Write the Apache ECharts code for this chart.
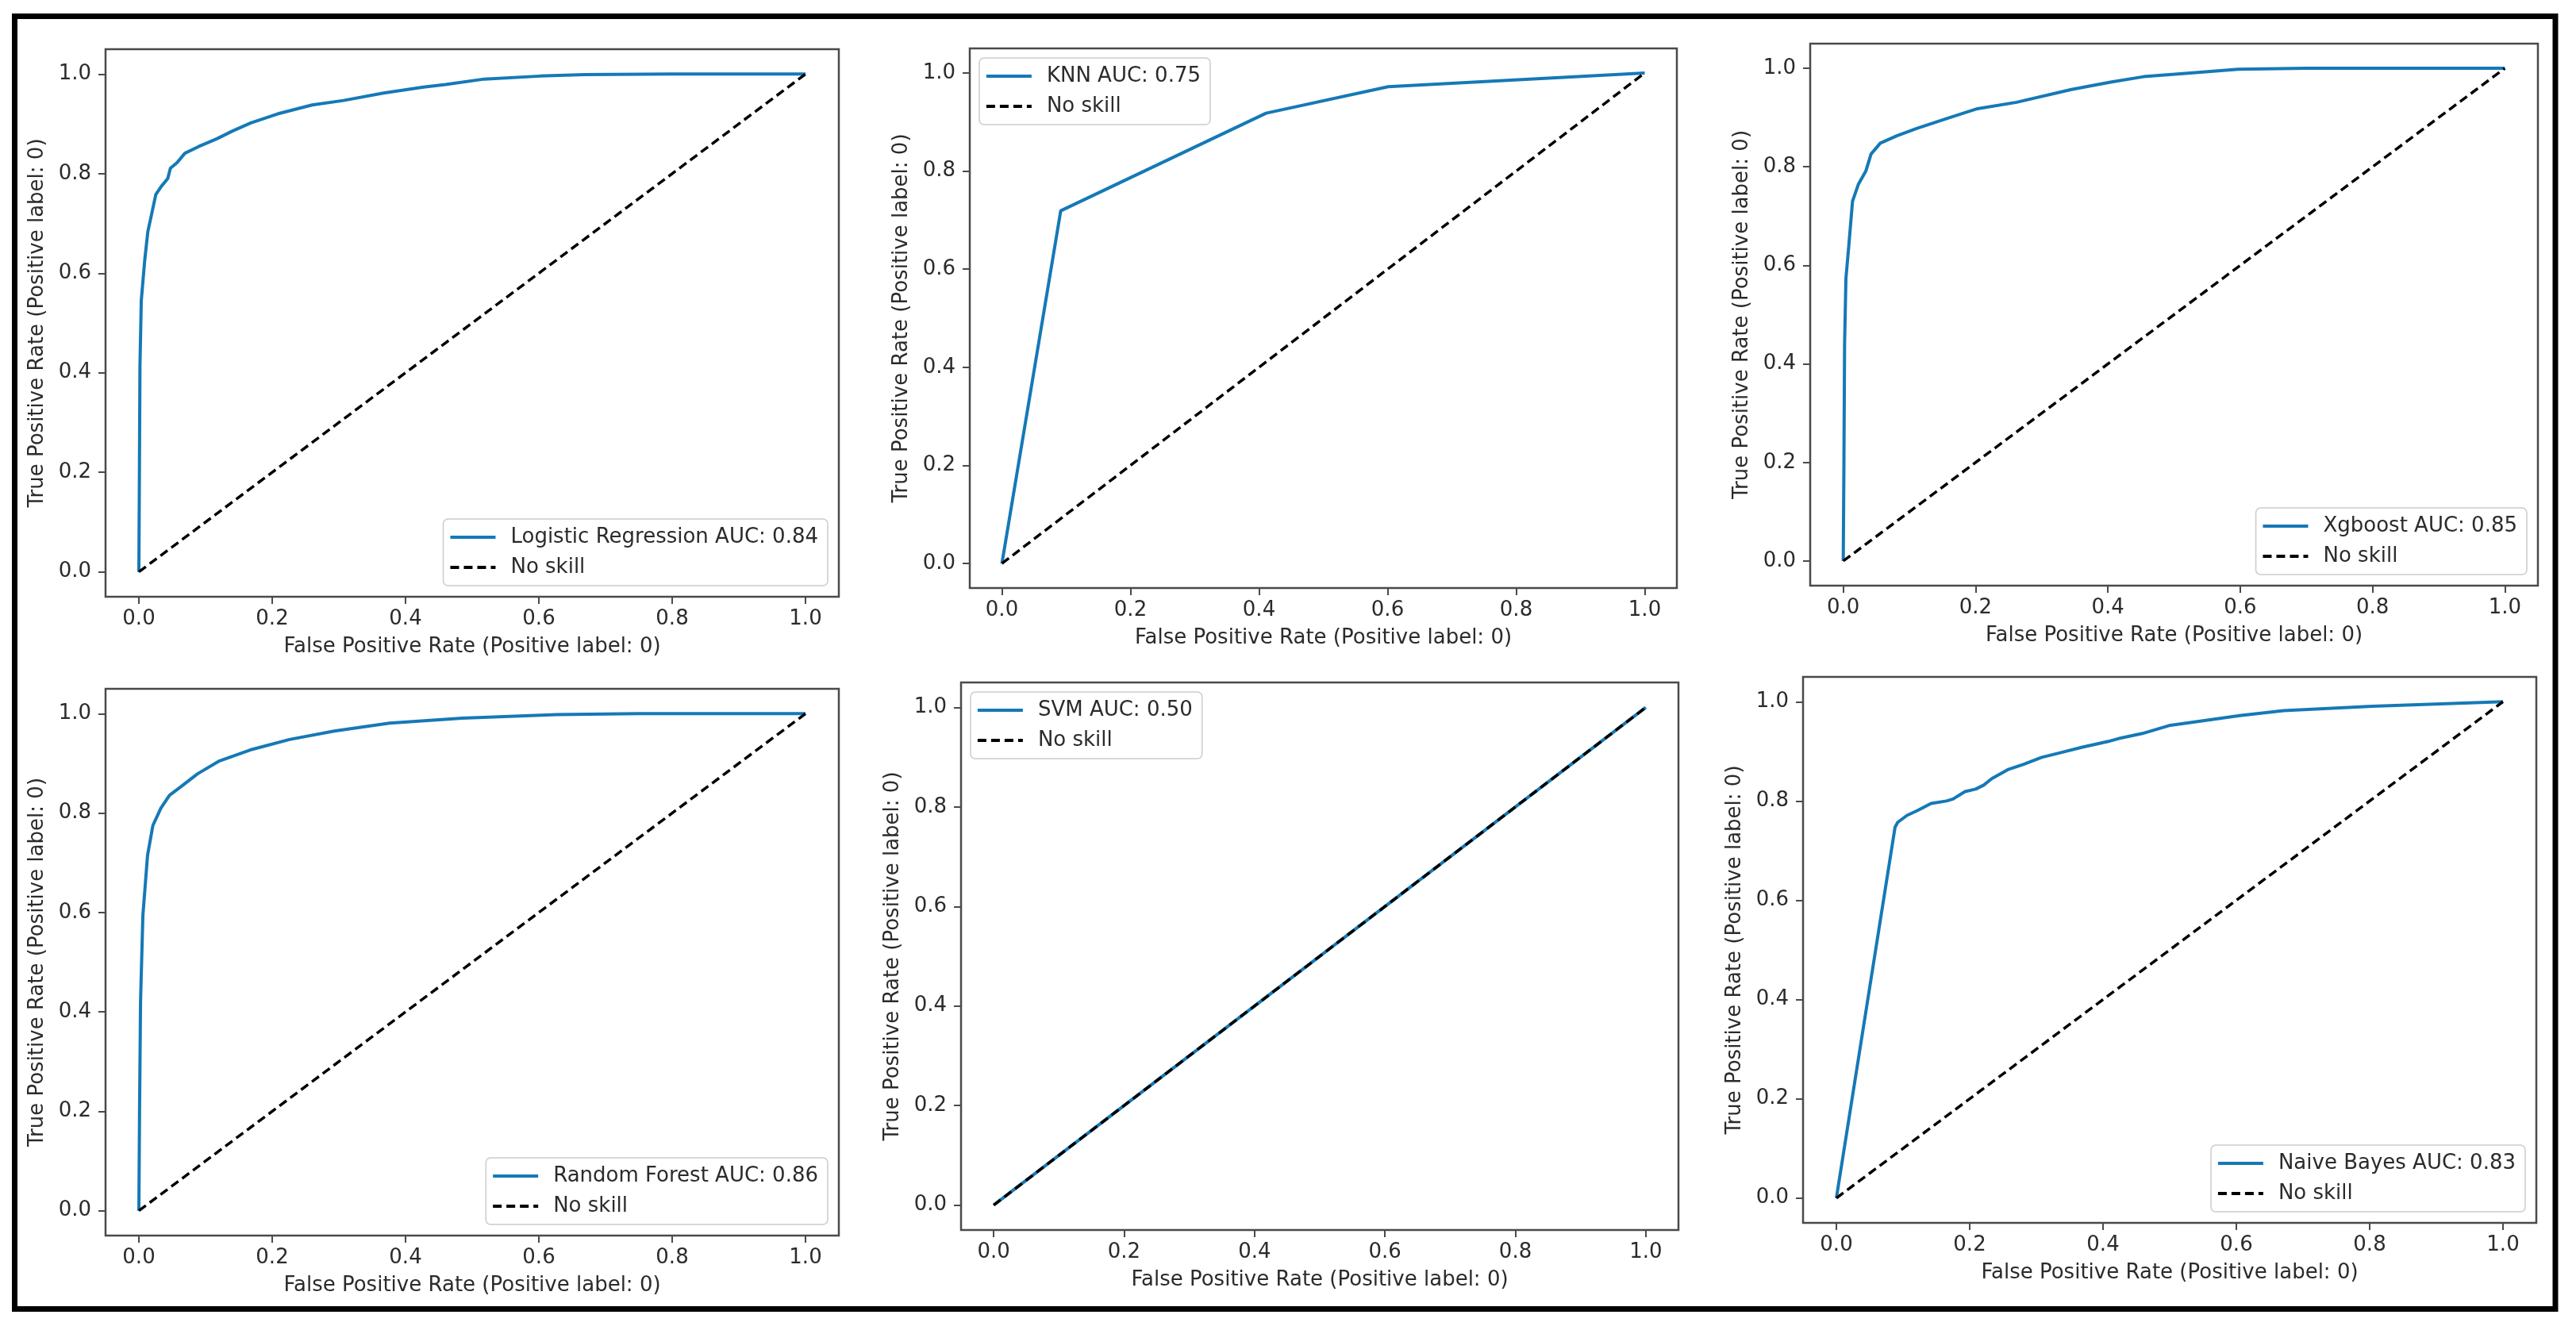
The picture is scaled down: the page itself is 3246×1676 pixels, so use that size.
<!DOCTYPE html>
<html>
<head>
<meta charset="utf-8">
<script src="https://cdn.jsdelivr.net/npm/echarts@6/dist/echarts.min.js"></script>
<style>
html,body{margin:0;padding:0;background:#fff;}
#chart{width:3246px;height:1676px;}
</style>
</head>
<body>
<div id="chart"></div>
<script>
// ---------------- data ----------------
const modelNames = ['Logistic Regression AUC: 0.84', 'KNN AUC: 0.75', 'Xgboost AUC: 0.85',
                    'Random Forest AUC: 0.86', 'SVM AUC: 0.50', 'Naive Bayes AUC: 0.83'];
const chanceName = 'No skill';
const xTitle = 'False Positive Rate (Positive label: 0)';
const yTitle = 'True Positive Rate (Positive label: 0)';
const tickValues = [0, 0.2, 0.4, 0.6, 0.8, 1.0];
const tickLabels = ['0.0', '0.2', '0.4', '0.6', '0.8', '1.0'];

const lrFpr = [0, 0.0008, 0.0016, 0.0036, 0.0087, 0.0135, 0.0195, 0.0254, 0.0334, 0.0433, 0.0473, 0.0572, 0.069, 0.089, 0.117, 0.141, 0.168, 0.208, 0.26, 0.307, 0.367, 0.427, 0.46, 0.518, 0.602, 0.669, 0.8, 1];
const lrTpr = [0, 0.2, 0.412, 0.545, 0.625, 0.684, 0.721, 0.758, 0.774, 0.79, 0.811, 0.822, 0.841, 0.854, 0.87, 0.886, 0.902, 0.92, 0.938, 0.947, 0.962, 0.974, 0.979, 0.99, 0.996, 0.999, 1.0, 1.0];

const knnFpr = [0, 0.0915, 0.411, 0.601, 1];
const knnTpr = [0, 0.719, 0.918, 0.972, 1];

const xgbFpr = [0, 0.001, 0.002, 0.004, 0.008, 0.014, 0.023, 0.034, 0.042, 0.056, 0.081, 0.111, 0.161, 0.203, 0.262, 0.345, 0.404, 0.454, 0.521, 0.597, 0.7, 1];
const xgbTpr = [0, 0.2, 0.44, 0.573, 0.634, 0.73, 0.765, 0.791, 0.826, 0.848, 0.863, 0.878, 0.9, 0.918, 0.931, 0.957, 0.972, 0.983, 0.99, 0.998, 1.0, 1.0];

const rfFpr = [0, 0.001, 0.0025, 0.006, 0.01, 0.013, 0.021, 0.033, 0.046, 0.063, 0.088, 0.121, 0.167, 0.226, 0.293, 0.376, 0.485, 0.627, 0.75, 1];
const rfTpr = [0, 0.2, 0.421, 0.594, 0.663, 0.715, 0.775, 0.81, 0.836, 0.853, 0.879, 0.905, 0.927, 0.948, 0.965, 0.981, 0.991, 0.998, 1.0, 1.0];

const svmFpr = [0, 1];
const svmTpr = [0, 1];

const nbFpr = [0, 0.088, 0.092, 0.106, 0.122, 0.142, 0.165, 0.175, 0.193, 0.209, 0.221, 0.233, 0.257, 0.281, 0.308, 0.332, 0.368, 0.408, 0.427, 0.459, 0.499, 0.546, 0.605, 0.671, 0.804, 1];
const nbTpr = [0, 0.747, 0.757, 0.771, 0.781, 0.795, 0.80, 0.804, 0.819, 0.824, 0.832, 0.845, 0.863, 0.874, 0.888, 0.896, 0.908, 0.92, 0.927, 0.936, 0.952, 0.961, 0.972, 0.982, 0.991, 1];

const chanceFpr = [0, 1];
const chanceTpr = [0, 1];

// ---------------- layout ----------------
const W = 3246, H = 1676;
const panels = [
  {fpr: lrFpr,  tpr: lrTpr,  box: [133, 62, 1057, 752],   legend: 'lr'},
  {fpr: knnFpr, tpr: knnTpr, box: [1222, 61, 2113, 741],  legend: 'ul'},
  {fpr: xgbFpr, tpr: xgbTpr, box: [2281, 55, 3198, 738],  legend: 'lr'},
  {fpr: rfFpr,  tpr: rfTpr,  box: [133, 868, 1057, 1557], legend: 'lr'},
  {fpr: svmFpr, tpr: svmTpr, box: [1211, 860, 2115, 1550], legend: 'ul'},
  {fpr: nbFpr,  tpr: nbTpr,  box: [2272, 853, 3196, 1541], legend: 'lr'}
];

const FONT = 'DejaVu Sans';
const FS = 26;
const TXT = '#2b2b2b';
const SPINE = '#4a4a4a';
const ROC = '#1579b6';

function zip(a, b) { return a.map((v, i) => [v, b[i]]); }
function fmt(v) {
  for (let i = 0; i < tickValues.length; i++) if (Math.abs(v - tickValues[i]) < 1e-9) return tickLabels[i];
  return '';
}

const grid = [], xAxis = [], yAxis = [], series = [], legend = [];
panels.forEach((p, i) => {
  const [l, t, r, b] = p.box;
  grid.push({left: l, top: t, width: r - l, height: b - t, show: true,
             borderColor: SPINE, borderWidth: 2.5, backgroundColor: 'transparent'});
  const axisCommon = {
    type: 'value', gridIndex: i, min: -0.05, max: 1.05,
    splitLine: {show: false},
    axisLine: {show: false, onZero: false},
    axisTick: {show: true, length: 9, customValues: tickValues, lineStyle: {color: SPINE, width: 2}},
    nameLocation: 'middle',
    nameTextStyle: {fontFamily: FONT, fontSize: FS, color: TXT}
  };
  xAxis.push(Object.assign({}, axisCommon, {
    name: xTitle, nameGap: 50,
    axisLabel: {customValues: tickValues, formatter: fmt, margin: 15, fontFamily: FONT, fontSize: FS, color: TXT}
  }));
  yAxis.push(Object.assign({}, axisCommon, {
    name: yTitle, nameGap: 73,
    axisLabel: {customValues: tickValues, formatter: fmt, margin: 18, fontFamily: FONT, fontSize: FS, color: TXT}
  }));
  series.push({
    name: modelNames[i], type: 'line', xAxisIndex: i, yAxisIndex: i,
    data: zip(p.fpr, p.tpr), symbol: 'none', showSymbol: false, smooth: false,
    lineStyle: {color: ROC, width: 4}, itemStyle: {color: ROC}, z: 2, animation: false
  });
  series.push({
    name: chanceName, type: 'line', xAxisIndex: i, yAxisIndex: i,
    data: zip(chanceFpr, chanceTpr), symbol: 'none', showSymbol: false,
    lineStyle: {color: '#000', width: 3.5, type: [11, 6]}, itemStyle: {color: '#000'}, z: 3, animation: false
  });
  const lg = {
    orient: 'vertical', data: [modelNames[i], chanceName],
    itemWidth: 57, itemHeight: 26, itemGap: 12,
    padding: [10, 12, 10, 7],
    backgroundColor: 'rgba(255,255,255,0.85)',
    borderColor: '#cccccc', borderWidth: 1.5, borderRadius: 6,
    itemStyle: {opacity: 0, color: 'transparent', borderWidth: 0},
    lineStyle: {width: 3.8},
    textStyle: {fontFamily: FONT, fontSize: FS, color: TXT, padding: [0, 0, 0, 14]},
    selectedMode: false
  };
  if (p.legend === 'lr') { lg.right = W - (r - 14); lg.bottom = H - (b - 14); }
  else { lg.left = l + 12; lg.top = t + 12; }
  legend.push(lg);
});

const chart = echarts.init(document.getElementById('chart'), null, {renderer: 'canvas'});
chart.setOption({
  backgroundColor: '#ffffff',
  animation: false,
  grid, xAxis, yAxis, series, legend,
  graphic: [{
    type: 'rect', shape: {x: 18.5, y: 20.5, width: 3220 - 18.5, height: 1649.5 - 20.5},
    style: {fill: 'none', stroke: '#000', lineWidth: 7}, z: 100
  }]
});
</script>
</body>
</html>
